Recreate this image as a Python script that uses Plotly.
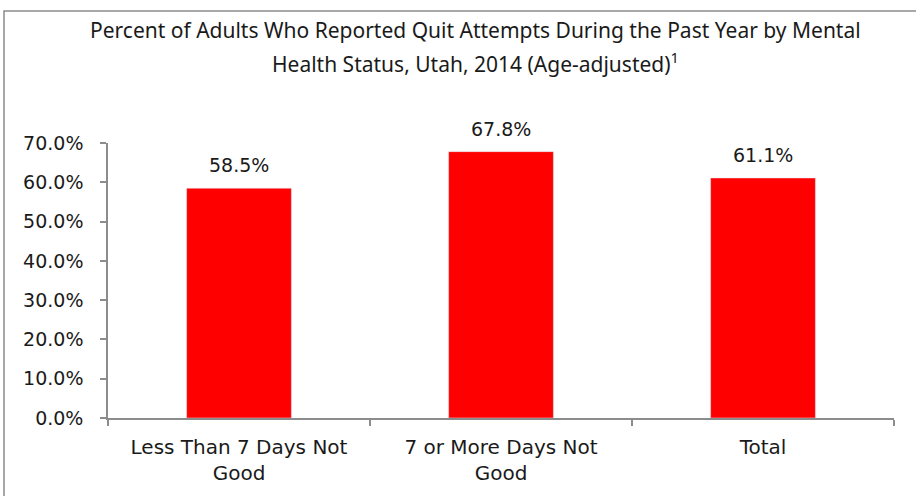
import plotly.graph_objects as go

categories = ["Less Than 7 Days Not<br>Good", "7 or More Days Not<br>Good", "Total"]
values = [58.5, 67.8, 61.1]
y_ticks = [0, 10, 20, 30, 40, 50, 60, 70]
title_line1 = "Percent of Adults Who Reported Quit Attempts During the Past Year by Mental"
title_line2 = "Health Status, Utah, 2014 (Age-adjusted)<sup style='font-size:9px'>1</sup>"

W, H = 916, 496
L, R, T, B = 108, 22, 143, 78
pw, ph = W - L - R, H - T - B

def px(x):
    return (x - L) / pw

def py(y):
    return (H - B - y) / ph

axis_col = "#8c8c8c"
text_col = "#1a1a1a"
tick_font = dict(family="DejaVu Sans", size=19, color=text_col)
cat_font = dict(family="DejaVu Sans", size=20, color=text_col)
title_font = dict(family="Noto Sans", size=21, color=text_col)

fig = go.Figure(go.Bar(
    x=categories, y=values, marker_color="#ff0000", width=0.4,
))

annotations = [
    dict(text=f"{v:.1f}%", x=c, y=v, xref="x", yref="y", showarrow=False,
         xanchor="center", yanchor="middle", yshift=23, font=tick_font)
    for c, v in zip(categories, values)
]
annotations += [
    dict(text=title_line1, x=px(475), y=py(30), xref="paper", yref="paper",
         showarrow=False, xanchor="center", yanchor="middle", font=title_font),
    dict(text=title_line2, x=px(475), y=py(62), xref="paper", yref="paper",
         showarrow=False, xanchor="center", yanchor="middle", font=title_font),
]

fig.update_layout(
    width=W, height=H, margin=dict(l=L, r=R, t=T, b=B),
    paper_bgcolor="white", plot_bgcolor="white", showlegend=False,
    bargap=0.6,
    xaxis=dict(showline=True, linecolor=axis_col, linewidth=1.5, ticks="outside",
               tickson="boundaries", ticklen=6, tickcolor=axis_col, tickwidth=1.5,
               tickfont=cat_font, showgrid=False, ticklabelstandoff=10),
    yaxis=dict(range=[0, 70], tickvals=y_ticks, ticktext=[f"{v:.1f}%" for v in y_ticks],
               showline=True, linecolor=axis_col, linewidth=1.5, ticks="outside",
               ticklen=6, tickcolor=axis_col, tickwidth=1.5, tickfont=tick_font,
               showgrid=False, zeroline=False, ticklabelstandoff=13),
    annotations=annotations,
    shapes=[dict(type="rect", xref="paper", yref="paper", x0=px(4), x1=px(925),
                 y0=py(505), y1=py(11), line=dict(color="#8c8c8c", width=1.5),
                 fillcolor="rgba(0,0,0,0)", layer="below")],
)

fig.write_html("out.html")
